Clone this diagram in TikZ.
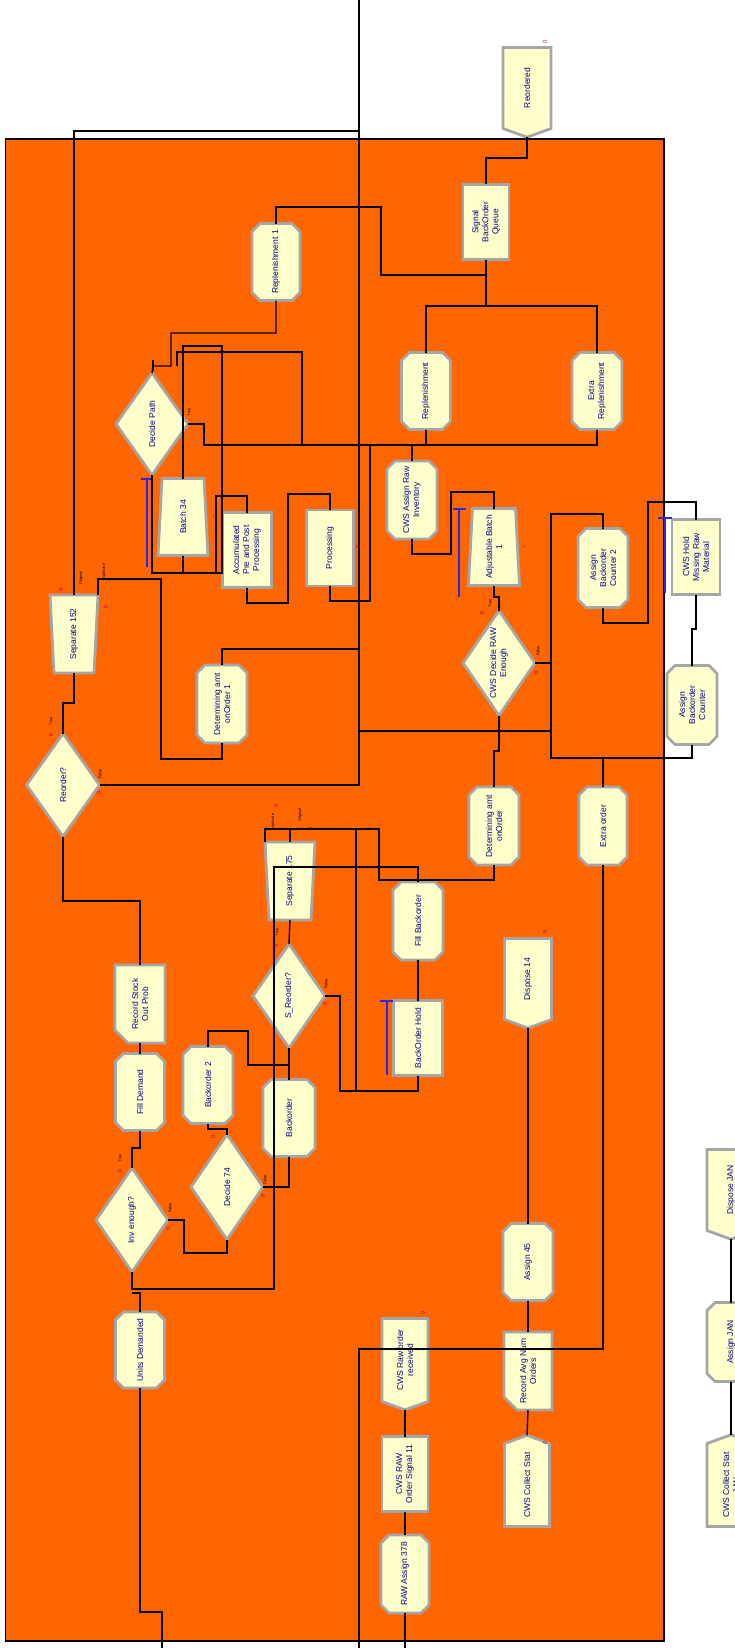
\documentclass[tikz,border=0pt]{standalone}
\usepackage{fontspec}
\setmainfont{Liberation Sans}
\usetikzlibrary{shapes.geometric,shapes.symbols,calc}
\definecolor{arenaorange}{RGB}{255,102,0}
\definecolor{ylw}{RGB}{255,255,204}
\definecolor{bev}{RGB}{165,165,165}
\definecolor{navytxt}{RGB}{0,0,140}
\definecolor{cnt}{RGB}{150,0,110}
\definecolor{qblue}{RGB}{40,40,230}
\tikzset{
 mod/.style={fill=ylw, draw=bev, line width=2.8pt, inner sep=0pt, outer sep=0pt},
 modl/.style={fill=ylw, draw=bev, line width=2.8pt, line join=miter},
 hid/.style={rectangle, draw=none, fill=none, inner sep=0pt, outer sep=0pt},
 box/.style={mod, rectangle},
 dec/.style={mod, diamond},
 dsp/.style={mod, signal, signal to=south, signal pointer angle=140},
 crt/.style={mod, signal, signal to=north, signal pointer angle=140},
 txt/.style={rotate=90, font=\fontsize{8.5}{10}\selectfont, text=navytxt, align=center, inner sep=0pt},
 cn/.style={line width=1.4pt, black},
 ql/.style={line width=1.5pt, qblue},
 zero/.style={rotate=90, font=\fontsize{5.5}{5.5}\selectfont, text=cnt, inner sep=0pt},
 tf/.style={rotate=90, font=\fontsize{4}{4}\selectfont, text=black, inner sep=0pt},
}
\newcommand\amod[6]{\node[#1, minimum width=#4pt, minimum height=#5pt] (#2) at (#3) {};\node[txt] (#2t) at (#2.center) {#6};}
\newcommand\hidnode[4]{\node[hid, minimum width=#3pt, minimum height=#4pt] (#1) at (#2) {};}
\newcommand\txtnode[2]{\node[txt] (#1t) at (#1.center) {#2};}
% octagon (assign)
\newcommand\octmod[5]{\hidnode{#1}{#2}{#3}{#4}%
 \filldraw[modl] ($(#1.north west)+(8,0)$) -- ($(#1.north east)+(-8,0)$) -- ($(#1.north east)+(0,8)$) -- ($(#1.south east)+(0,-8)$) -- ($(#1.south east)+(-8,0)$) -- ($(#1.south west)+(8,0)$) -- ($(#1.south west)+(0,-8)$) -- ($(#1.north west)+(0,8)$) -- cycle;%
 \txtnode{#1}{#5}}
% record (cut bottom-left corner)
\newcommand\recmod[5]{\hidnode{#1}{#2}{#3}{#4}%
 \filldraw[modl] (#1.north west) -- (#1.north east) -- (#1.south east) -- ($(#1.south west)+(13,0)$) -- ($(#1.south west)+(0,-13)$) -- cycle;%
 \txtnode{#1}{#5}}
% separate (bottom narrower)
\newcommand\sepmod[5]{\hidnode{#1}{#2}{#3}{#4}%
 \filldraw[modl] (#1.north west) -- (#1.north east) -- ($(#1.south east)+(-4,0)$) -- ($(#1.south west)+(4,0)$) -- cycle;%
 \txtnode{#1}{#5}}
% batch (top narrower)
\newcommand\batmod[5]{\hidnode{#1}{#2}{#3}{#4}%
 \filldraw[modl] ($(#1.north west)+(4,0)$) -- ($(#1.north east)+(-4,0)$) -- (#1.south east) -- (#1.south west) -- cycle;%
 \txtnode{#1}{#5}}
\begin{document}
\begin{tikzpicture}[x=1pt,y=-1pt]
\useasboundingbox (0,0) rectangle (735,1648);
\fill[white] (0,0) rectangle (735,1648);
\filldraw[fill=arenaorange, draw=black, line width=1.3pt] (5.5,139) rectangle (664,1641);
\coordinate (topend) at (359,0);
\coordinate (dpin) at (153,366);
% modules
\amod{dsp}{reord}{527,88}{48}{81}{Reordered}
\amod{box}{sigq}{486,222}{46}{75}{Signal\\BackOrder\\Queue}
\octmod{rep1}{276,262}{48}{77}{Replenishment 1}
\octmod{rep}{426,391}{49}{77}{Replenishment}
\octmod{xrep}{597,391}{50}{77}{Extra\\Replenishment}
\amod{dec}{dpath}{152,424}{72}{102}{Decide Path}
\batmod{b34}{183,517}{50}{77}{Batch 34}
\amod{box}{accum}{247,550}{49}{75}{Accumulated\\Pre and Post\\Processing}
\amod{box}{proc}{330,548}{47}{76}{Processing}
\octmod{cwsraw}{412,500}{50}{78}{CWS Assign Raw\\Inventory}
\batmod{adjb}{494,547}{51}{77}{Adjustable Batch\\1}
\octmod{abc2}{603,568}{50}{79}{Assign\\Backorder\\Counter 2}
\amod{box}{hold}{696,557}{48}{75}{CWS Hold\\Missing Raw\\Material}
\amod{dec}{cwsdec}{499,663}{72}{105}{CWS Decide RAW\\Enough}
\octmod{abc}{692,705}{50}{79}{Assign\\Backorder\\Counter}
\sepmod{sep152}{74,634}{48}{78}{Separate 152}
\amod{dec}{reorder}{63,785}{73}{103}{Reorder?}
\octmod{det1}{222,704}{50}{78}{Determining amt\\onOrder 1}
\octmod{det}{494,826}{50}{78}{Determining amt\\onOrder}
\octmod{xord}{603,826}{48}{78}{Extra order}
\sepmod{sep175}{290,881}{50}{78}{Separate 175}
\octmod{fillbo}{418,921}{50}{78}{Fill Backorder}
\amod{dec}{sreord}{289,996}{72}{104}{S\_Reorder?}
\amod{box}{bohold}{418,1038}{49}{75}{BackOrder Hold}
\recmod{recso}{140,1004}{50}{78}{Record Stock\\Out Prob}
\octmod{filld}{140,1092}{49}{77}{Fill Demand}
\octmod{bo2}{208,1085}{50}{77}{Backorder 2}
\octmod{bo}{289,1118}{52}{77}{Backorder}
\amod{dec}{d74}{227,1187}{72}{105}{Decide 74}
\amod{dec}{inv}{132,1220}{72}{104}{Inv enough?}
\octmod{units}{140,1350}{49}{76}{Units Demanded}
\amod{dsp}{disp14}{528,979}{47}{81}{Dispose 14}
\octmod{as45}{528,1262}{50}{77}{Assign 45}
\recmod{recavg}{528,1371}{48}{78}{Record Avg Num\\Orders}
\amod{crt}{collect}{527,1485}{45}{83}{CWS Collect Stat}
\amod{dsp}{rawrec}{405,1360}{46}{83}{CWS Raw order\\received}
\amod{box}{rawsig}{405,1474}{46}{75}{CWS RAW\\Order Signal 11}
\octmod{raw378}{405,1574}{48}{78}{RAW Assign 378}
\amod{dsp}{dispjan}{731,1190}{48}{81}{Dispose JAN}
\octmod{asjan}{731,1342}{48}{79}{Assign JAN}
\amod{crt}{colljan}{731,1485}{48}{83}{CWS Collect Stat\\JAN}
% queues
\draw[ql] (147,479) -- (147,567); \draw[ql] (141,479) -- (153,479);
\draw[ql] (459,509) -- (459,597); \draw[ql] (453,509) -- (466,509);
\draw[ql] (665,518) -- (665,593); \draw[ql] (658,518) -- (672,518);
\draw[ql] (387,1001) -- (387,1075); \draw[ql] (380,1001) -- (393,1001);
% connectors
\draw[cn] (reord.south) -- (527,158) -| (sigq.north);
\draw[cn] (sigq.south) |- (381,275) |- (276,207) -- (rep1.north);
\draw[cn] (sigq.south) -- (486,306) -| (rep.north);
\draw[cn] (486,306) -| (xrep.north);
\draw[cn] (rep1.south) |- (171,333) |- (dpin) -- (dpath.north);
\draw[cn] (153,360) -- (153,371);
\draw[cn] (177,366) |- (302,352) -- (302,445);
\draw[cn] (dpath.east) -| (204,445) -| (xrep.south);
\draw[cn] (rep.south) -- (426,445);
\draw[cn] (cwsraw.north) -- (412,445);
\draw[cn] (proc.south) |- (370,601) -- (370,445);
\draw[cn] (b34.north) |- (222,346) -- (222,573) -- (152,573) -- (dpath.south);
\draw[cn] (b34.south) -- (183,573);
\draw[cn] (216,573) -- (216,496) -| (accum.north);
\draw[cn] (accum.south) |- (288,603) |- (330,494) -- (proc.north);
\draw[cn] (cwsraw.south) |- (451,554) |- (494,492) -- (adjb.north);
\draw[cn] (adjb.south) |- (499,597) -- (cwsdec.north);
\draw[cn] (cwsdec.east) -- (551,663);
\draw[cn] (abc2.north) |- (551,514) -- (551,758) -| (abc.south);
\draw[cn] (xord.north) -- (603,758);
\draw[cn] (abc2.south) |- (648,623) |- (696,502) -- (hold.north);
\draw[cn] (hold.south) |- (692,629) -- (abc.north);
\draw[cn] (cwsdec.south) |- (494,751) -- (det.north);
\draw[cn] (reorder.east) -- (359,785) -- (topend);
\draw[cn] (359,731) -- (551,731);
\draw[cn] (det1.north) |- (359,649);
\draw[cn] (sep152.north) |- (359,131);
\draw[cn] (sep152.north east) |- (161,579) |- (222,759) -- (det1.south);
\draw[cn] (reorder.north) |- (74,703) -- (sep152.south);
\draw[cn] (reorder.south) |- (140,901) -- (recso.north);
\draw[cn] (recso.south) -- (filld.north);
\draw[cn] (filld.south) |- (132,1148) -- (inv.north);
\draw[cn] (inv.east) -| (184,1253) -| (d74.south);
\draw[cn] (d74.north) |- (208,1129) -- (bo2.south);
\draw[cn] (d74.east) -| (bo.south);
\draw[cn] (bo.north) -- (sreord.south);
\draw[cn] (bo2.north) |- (248,1031) |- (289,1065);
\draw[cn] (sreord.north) -- (sep175.south);
\draw[cn] (sreord.east) -| (340,1091) -| (bohold.south);
\draw[cn] (fillbo.south) -- (bohold.north);
\draw[cn] (sep175.north west) -- (265,829) -- (379,829) |- (494,880) -- (det.south);
\draw[cn] (sep175.north) -- (290,829);
\draw[cn] (356,829) -- (356,1091);
\draw[cn] (fillbo.north) |- (274,867) -- (274,1289) -- (132,1289) -- (inv.south);
\draw[cn] (units.north) |- (132,1293);
\draw[cn] (units.south) |- (162,1612) -- (162,1648);
\draw[cn] (xord.south) |- (359,1349) -- (359,1648);
\draw[cn] (disp14.south) -- (as45.north);
\draw[cn] (as45.south) -- (recavg.north);
\draw[cn] (recavg.south) -- (collect.north);
\draw[cn] (rawrec.south) -- (rawsig.north);
\draw[cn] (rawsig.south) -- (raw378.north);
\draw[cn] (raw378.south) -- (405,1648);
\draw[cn] (dispjan.south) -- (asjan.north);
\draw[cn] (asjan.south) -- (colljan.north);
% counters and small labels
\node[zero] (z1) at (545,42) {0};
\node[zero] (z2) at (61,590) {0};
\node[zero] (z3) at (106,607) {0};
\node[zero] (z4) at (51,735) {0};
\node[zero] (z5) at (99,793) {0};
\node[zero] (z6) at (482,613) {0};
\node[zero] (z7) at (536,673) {0};
\node[zero] (z8) at (276,806) {0};
\node[zero] (z9) at (311,829) {0};
\node[zero] (z10) at (276,946) {0};
\node[zero] (z11) at (325,1004) {0};
\node[zero] (z12) at (213,1137) {0};
\node[zero] (z13) at (263,1196) {0};
\node[zero] (z14) at (120,1171) {0};
\node[zero] (z15) at (168,1229) {0};
\node[zero] (z16) at (545,932) {0};
\node[zero] (z17) at (423,1313) {0};
\node[zero] (z18) at (545,1443) {0};
\node[zero,text=red!80!black] (z19) at (358,547) {0};
\node[zero,text=red!80!black] (z20) at (215,517) {=};
\node[zero,text=red!80!black] (z21) at (525,547) {=};
\node[tf] (t1) at (51,721) {True};
\node[tf] (t2) at (100,774) {False};
\node[tf] (t3) at (490,603) {True};
\node[tf] (t4) at (538,651) {False};
\node[tf] (t5) at (277,932) {True};
\node[tf] (t6) at (326,984) {False};
\node[tf] (t7) at (265,1180) {False};
\node[tf] (t8) at (120,1158) {True};
\node[tf] (t9) at (170,1208) {False};
\node[tf] (t10) at (189,412) {True};
\node[tf] (t11) at (81,578) {Original};
\node[tf] (t12) at (104,572) {Duplicate};
\node[tf] (t13) at (273,822) {Duplicate};
\node[tf] (t14) at (300,815) {Original};
\end{tikzpicture}
\end{document}
